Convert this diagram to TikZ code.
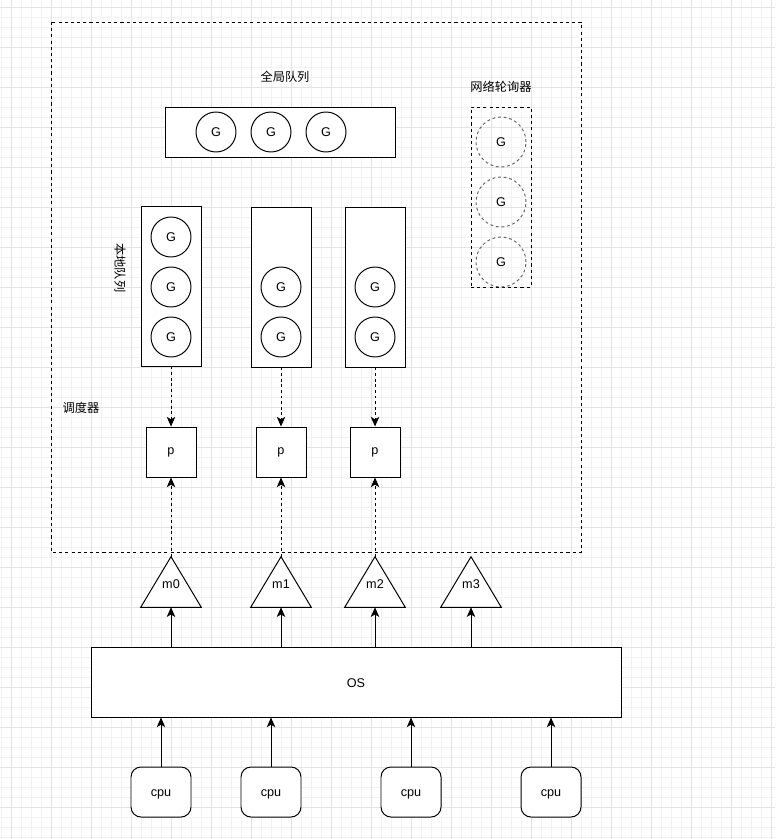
\documentclass[tikz,border=0pt]{standalone}
\usepackage{fontspec}
\setmainfont{Liberation Sans}
\newfontfamily\cjk{Noto Sans CJK SC}
\usetikzlibrary{arrows.meta}

\begin{document}
\begin{tikzpicture}[
  x=0.25mm,y=-0.25mm,
  every node/.style={font=\fontsize{9}{10}\selectfont},
  minorgrid/.style={draw=black!5,line width=.4pt},
  majorgrid/.style={draw=black!11,line width=.5pt},
  box/.style={draw=black,line width=.7pt,fill=white,inner sep=0pt},
  region/.style={draw=black,line width=.7pt,dash pattern=on 2.2pt off 2.2pt},
  queue/.style={box,minimum width=15mm,minimum height=40mm},
  gnode/.style={
    circle,draw=black,line width=.7pt,fill=white,minimum size=10mm,inner sep=0pt
  },
  pollg/.style={
    circle,draw=black!60,dash pattern=on 2pt off 2pt,line width=.7pt,
    minimum size=12.5mm,inner sep=0pt
  },
  pbox/.style={box,minimum size=12.5mm},
  cpubox/.style={box,rounded corners=2.5mm,minimum width=15mm,minimum height=12.5mm},
  mnode/.style={minimum width=15mm,minimum height=12.5mm,inner sep=0pt},
  cjktext/.style={font=\cjk\fontsize{8.7}{10}\selectfont,inner sep=0pt},
  solidarrow/.style={
    -{Stealth[length=2.4mm,width=2.1mm,inset=.6mm]},draw=black,line width=.7pt
  },
  dasharrow/.style={solidarrow,dash pattern=on 2pt off 2pt}
]
  \useasboundingbox (0,0) rectangle (775,839);
  \fill[white] (0,0) rectangle (775,839);

  % background grid
  \foreach \gx in {1,11,...,771} {\draw[minorgrid] (\gx,0)--(\gx,839);}
  \foreach \gy in {7,17,...,837} {\draw[minorgrid] (0,\gy)--(775,\gy);}
  \foreach \gx in {11,51,...,771} {\draw[majorgrid] (\gx,0)--(\gx,839);}
  \foreach \gy in {7,47,...,837} {\draw[majorgrid] (0,\gy)--(775,\gy);}

  % scheduler region
  \draw[region] (51,22) rectangle (581,552);
  \node[cjktext] (schedlabel) at (81,408) {调度器};

  % global queue
  \node[cjktext] (globallabel) at (285,77) {全局队列};
  \node[box,minimum width=57.5mm,minimum height=12.5mm] (global) at (280,132) {};
  \foreach \i/\gx in {1/216,2/271,3/326}
    {\node[gnode] (gg\i) at (\gx,132) {G};}

  % network poller
  \node[cjktext] (polllabel) at (501,87) {网络轮询器};
  \node[region,minimum width=15mm,minimum height=45mm,inner sep=0pt] (poller) at (501,197) {};
  \foreach \i/\gy in {1/142,2/202,3/262}
    {\node[pollg] (pg\i) at (501,\gy) {G};}

  % local queues
  \node[cjktext,rotate=-90] (locallabel) at (120,268) {本地队列};
  \node[queue] (q0) at (171,286) {};
  \node[queue] (q1) at (281,287) {};
  \node[queue] (q2) at (375,287) {};
  \foreach \gy in {237,287,337} {\node[gnode] at (171,\gy) {G};}
  \foreach \gx in {281,375}
    \foreach \gy in {287,337} {\node[gnode] at (\gx,\gy) {G};}

  % processors
  \node[pbox] (p0) at (171,452) {p};
  \node[pbox] (p1) at (281,452) {p};
  \node[pbox] (p2) at (375,452) {p};

  % machines
  \foreach \i/\gx in {0/171,1/281,2/375,3/471} {
    \node[mnode] (m\i) at (\gx,582) {};
    \draw[box] (m\i.north) -- (m\i.south east) -- (m\i.south west) -- cycle;
    \node at (\gx,584) {m\i};
  }

  \foreach \i in {0,1,2} {
    \draw[dasharrow] (q\i.south) -- (p\i.north);
    \draw[dasharrow] (m\i.north) -- (p\i.south);
  }

  % operating system
  \node[box,minimum width=132.5mm,minimum height=17.5mm] (os) at (356,682) {};
  \node (oslabel) at (356,683) {OS};
  \foreach \i in {0,...,3}
    {\draw[solidarrow] (os.north -| m\i) -- (m\i.south);}

  % cpus
  \foreach \i/\gx in {0/161,1/271,2/411,3/551} {
    \node[cpubox] (cpu\i) at (\gx,792) {};
    \node at (\gx,794) {cpu};
    \draw[solidarrow] (cpu\i.north) -- (os.south -| cpu\i);
  }
\end{tikzpicture}
\end{document}
